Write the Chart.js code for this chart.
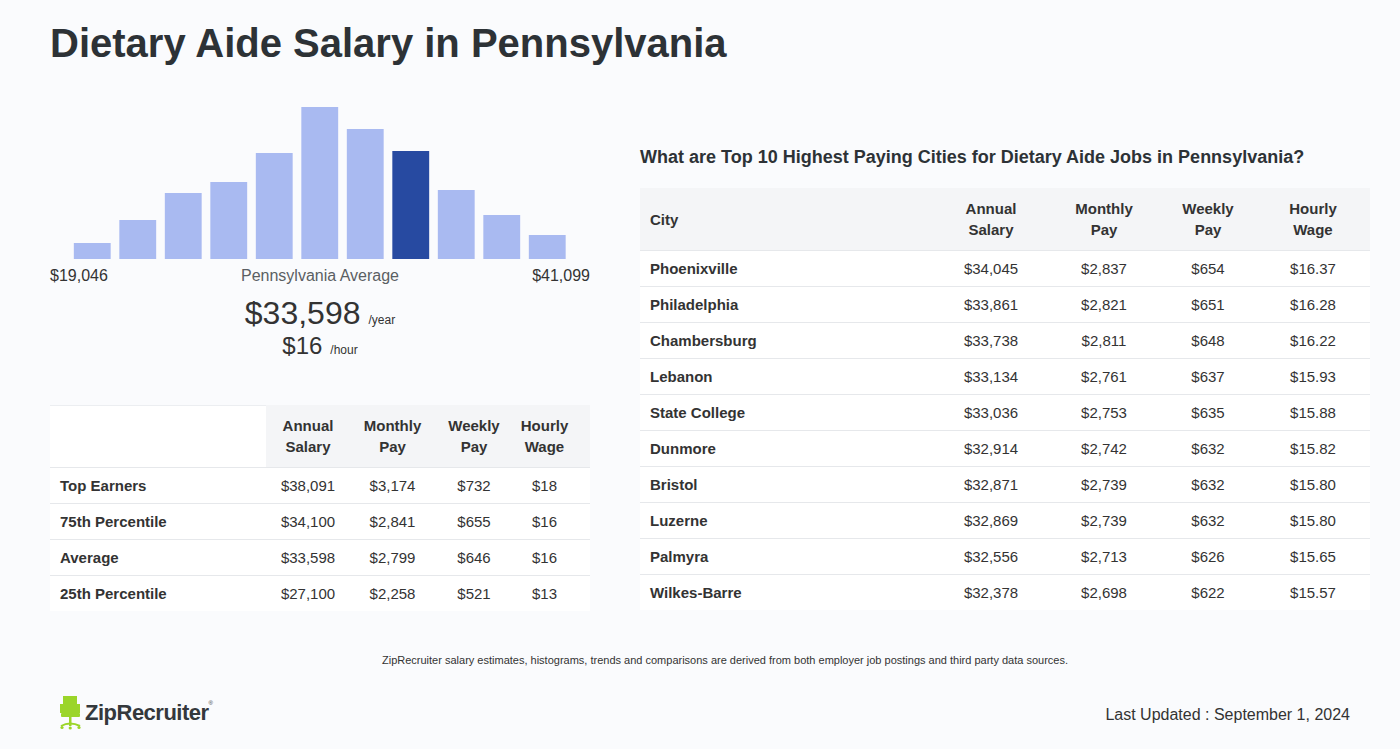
<!DOCTYPE html>
<html>
<head>
<meta charset="utf-8">
<script src="https://cdn.jsdelivr.net/npm/chart.js@4/dist/chart.umd.min.js"></script>
<style>
  html, body { margin: 0; padding: 0; }
  body {
    width: 1400px; height: 749px; position: relative; overflow: hidden;
    background: #fafbfd; color: #2d3236;
    font-family: "Liberation Sans", Arial, Helvetica, sans-serif;
  }
  .abs { position: absolute; }
  h1 { position: absolute; left: 50px; top: 21px; margin: 0; font-size: 40px; font-weight: bold; color: #2d3236; white-space: nowrap; }
  #histWrap { position: absolute; left: 50px; top: 95px; width: 540px; height: 170px; }
  .lbl { font-size: 16px; color: #333; top: 267px; }
  table { border-collapse: collapse; background: #fff; position: absolute; font-size: 15px; color: #333; }
  th { font-weight: bold; background: #f4f5f7; line-height: 21px; height: 62px; padding: 0; }
  td { height: 35px; padding: 0; text-align: center; border-top: 1px solid #e6e8eb; }
  td.name { text-align: left; padding-left: 10px; font-weight: bold; }
  th.blank { background: #fff; box-shadow: inset 0 1px 0 #eceef1; }
  th.city { text-align: left; padding-left: 10px; }
  #pctTable th:last-child, #pctTable td:last-child { padding-right: 14px; }
</style>
</head>
<body>
<h1>Dietary Aide Salary in Pennsylvania</h1>

<div id="histWrap"><canvas id="hist"></canvas></div>

<div class="abs lbl" style="left:50px;">$19,046</div>
<div class="abs lbl" style="left:220px;width:200px;text-align:center;color:#5a5f63;">Pennsylvania Average</div>
<div class="abs lbl" style="right:810px;">$41,099</div>

<div class="abs" style="left:50px;width:540px;top:295px;text-align:center;white-space:nowrap;">
  <span style="font-size:32px;color:#333;">$33,598</span><span style="font-size:12px;color:#333;margin-left:8px;">/year</span>
</div>
<div class="abs" style="left:50px;width:540px;top:332px;text-align:center;white-space:nowrap;">
  <span style="font-size:24px;color:#333;">$16</span><span style="font-size:12px;color:#333;margin-left:8px;">/hour</span>
</div>

<table id="pctTable" style="left:50px;top:405px;width:540px;">
  <colgroup><col style="width:216px"><col style="width:84px"><col style="width:85px"><col style="width:78px"><col style="width:77px"></colgroup>
  <thead><tr id="pctHead"></tr></thead>
  <tbody id="pctBody"></tbody>
</table>

<div class="abs" style="left:640px;top:147px;font-size:18px;font-weight:bold;color:#2d3236;white-space:nowrap;">What are Top 10 Highest Paying Cities for Dietary Aide Jobs in Pennsylvania?</div>

<table id="cityTable" style="left:640px;top:188px;width:730px;">
  <colgroup><col style="width:294px"><col style="width:114px"><col style="width:112px"><col style="width:96px"><col style="width:114px"></colgroup>
  <thead><tr id="cityHead"></tr></thead>
  <tbody id="cityBody"></tbody>
</table>

<div class="abs" style="left:0;width:1450px;top:654px;text-align:center;font-size:11px;color:#333;">ZipRecruiter salary estimates, histograms, trends and comparisons are derived from both employer job postings and third party data sources.</div>

<div class="abs" style="left:59px;top:695px;">
  <svg width="24" height="36" viewBox="0 0 24 36">
    <rect x="4" y="1" width="14" height="18" fill="#9bd52a"/>
    <rect x="1" y="9" width="3" height="9" fill="#9bd52a"/>
    <rect x="18" y="9" width="3" height="9" fill="#9bd52a"/>
    <rect x="2" y="18" width="19" height="4" rx="1" fill="#9bd52a"/>
    <rect x="10" y="22" width="2.5" height="9" fill="#9bd52a"/>
    <path d="M2 31 Q11 26 21 31" stroke="#9bd52a" stroke-width="2" fill="none"/>
    <circle cx="3" cy="32.5" r="1.6" fill="#9bd52a"/>
    <circle cx="11.2" cy="33" r="1.6" fill="#9bd52a"/>
    <circle cx="20" cy="32.5" r="1.6" fill="#9bd52a"/>
  </svg>
</div>
<div class="abs" style="left:85px;top:700px;font-size:22px;font-weight:bold;color:#34383c;letter-spacing:-0.5px;">ZipRecruiter<sup style="font-size:6px;font-weight:normal;vertical-align:top;">®</sup></div>

<div class="abs" style="right:50px;top:706px;font-size:16px;color:#333;">Last Updated : September 1, 2024</div>

<script>
// histogram bins (relative counts) and the bin holding the average
const binCounts = [16, 39, 66, 77, 106, 152, 130, 108, 69, 44, 24];
const binLabels = ['1', '2', '3', '4', '5', '6', '7', '8', '9', '10', '11'];
const averageBin = 7;

// percentile table
const pctRows = ['Top Earners', '75th Percentile', 'Average', '25th Percentile'];
const pctAnnual = ['$38,091', '$34,100', '$33,598', '$27,100'];
const pctMonthly = ['$3,174', '$2,841', '$2,799', '$2,258'];
const pctWeekly = ['$732', '$655', '$646', '$521'];
const pctHourly = ['$18', '$16', '$16', '$13'];

// top cities table
const cities = ['Phoenixville', 'Philadelphia', 'Chambersburg', 'Lebanon', 'State College', 'Dunmore', 'Bristol', 'Luzerne', 'Palmyra', 'Wilkes-Barre'];
const cityAnnual = ['$34,045', '$33,861', '$33,738', '$33,134', '$33,036', '$32,914', '$32,871', '$32,869', '$32,556', '$32,378'];
const cityMonthly = ['$2,837', '$2,821', '$2,811', '$2,761', '$2,753', '$2,742', '$2,739', '$2,739', '$2,713', '$2,698'];
const cityWeekly = ['$654', '$651', '$648', '$637', '$635', '$632', '$632', '$632', '$626', '$622'];
const cityHourly = ['$16.37', '$16.28', '$16.22', '$15.93', '$15.88', '$15.82', '$15.80', '$15.80', '$15.65', '$15.57'];

const headers = ['Annual<br>Salary', 'Monthly<br>Pay', 'Weekly<br>Pay', 'Hourly<br>Wage'];

document.getElementById('pctHead').innerHTML =
  '<th class="blank"></th>' + headers.map(h => `<th>${h}</th>`).join('');
document.getElementById('pctBody').innerHTML = pctRows.map((r, i) =>
  `<tr><td class="name">${r}</td><td>${pctAnnual[i]}</td><td>${pctMonthly[i]}</td><td>${pctWeekly[i]}</td><td>${pctHourly[i]}</td></tr>`
).join('');

document.getElementById('cityHead').innerHTML =
  '<th class="city">City</th>' + headers.map(h => `<th>${h}</th>`).join('');
document.getElementById('cityBody').innerHTML = cities.map((c, i) =>
  `<tr><td class="name">${c}</td><td>${cityAnnual[i]}</td><td>${cityMonthly[i]}</td><td>${cityWeekly[i]}</td><td>${cityHourly[i]}</td></tr>`
).join('');

const ctx = document.getElementById('hist').getContext('2d');
new Chart(ctx, {
  type: 'bar',
  data: {
    labels: binLabels,
    datasets: [{
      data: binCounts,
      backgroundColor: binCounts.map((v, i) => i === averageBin ? '#274aa1' : '#a9baf1'),
      borderWidth: 0,
      categoryPercentage: 1,
      barPercentage: 0.81
    }]
  },
  options: {
    responsive: true,
    maintainAspectRatio: false,
    animation: false,
    layout: { padding: { left: 19.5, right: 20, top: 12, bottom: 6 } },
    plugins: { legend: { display: false }, tooltip: { enabled: false } },
    scales: {
      x: { display: false },
      y: { display: false, min: 0, max: 152 }
    }
  }
});
</script>
</body>
</html>
